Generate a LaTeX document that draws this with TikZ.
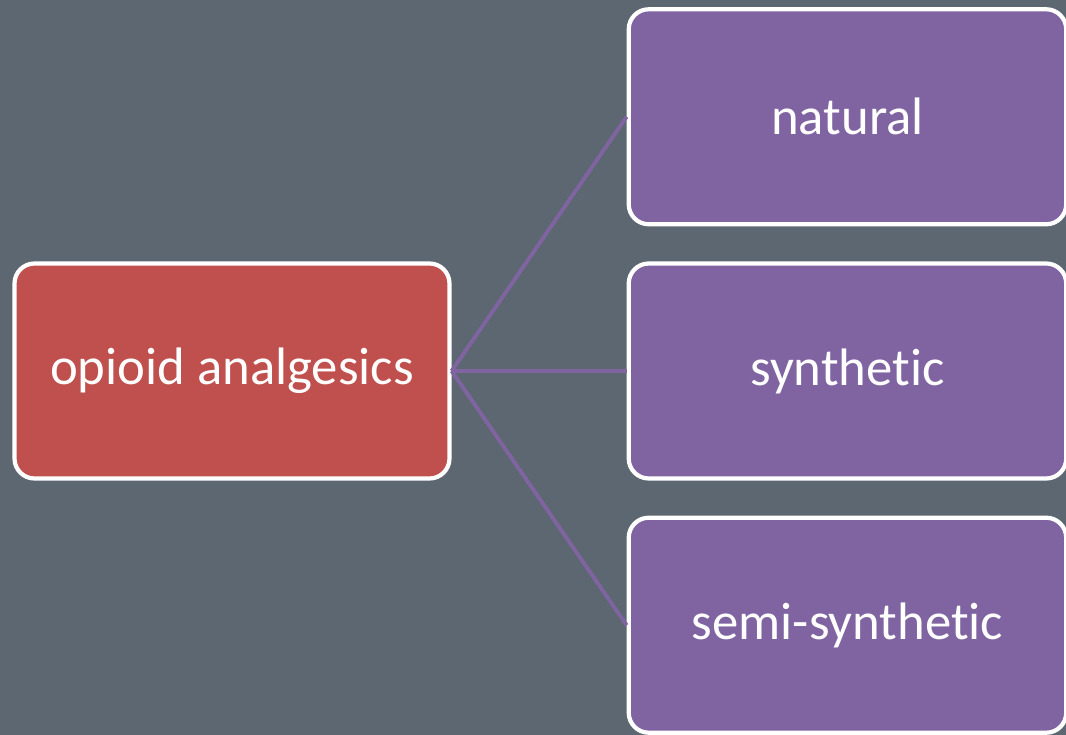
\documentclass[tikz,border=0pt]{standalone}
\usepackage{fontspec}
\setmainfont[RawFeature={-liga}]{Carlito}
\usetikzlibrary{positioning}
\definecolor{slate}{HTML}{5D6771}
\definecolor{brick}{HTML}{C0504D}
\definecolor{lilac}{HTML}{8064A2}

\begin{document}
\begin{tikzpicture}[node distance=0.7cm,
  box/.style={rectangle, rounded corners=0.4cm, draw=white, line width=2.4pt,
    minimum width=8.7cm, minimum height=4.3cm, text=white, font=\fontsize{30}{36}\selectfont},
  root box/.style={box, fill=brick},
  leaf box/.style={box, fill=lilac, minimum width=8.75cm},
  link/.style={lilac, line width=2.2pt}]

			\fill[slate] (0,0) rectangle (21.32,-14.7);
			\useasboundingbox (0,0) rectangle (21.32,-14.7);

			\node[root box] (opioid) at (4.64,-7.42) {opioid analgesics};
			\node[leaf box] (synthetic) [right=3.5cm of opioid] {synthetic};
			\node[leaf box] (natural) [above=of synthetic] {natural};
			\node[leaf box] (semi) [below=of synthetic] {semi-synthetic};

			% branches
			\draw[link] (opioid.east) -- (natural.west);
			\draw[link] (opioid.east) -- (synthetic.west);
			\draw[link] (opioid.east) -- (semi.west);

		\end{tikzpicture}
\end{document}
